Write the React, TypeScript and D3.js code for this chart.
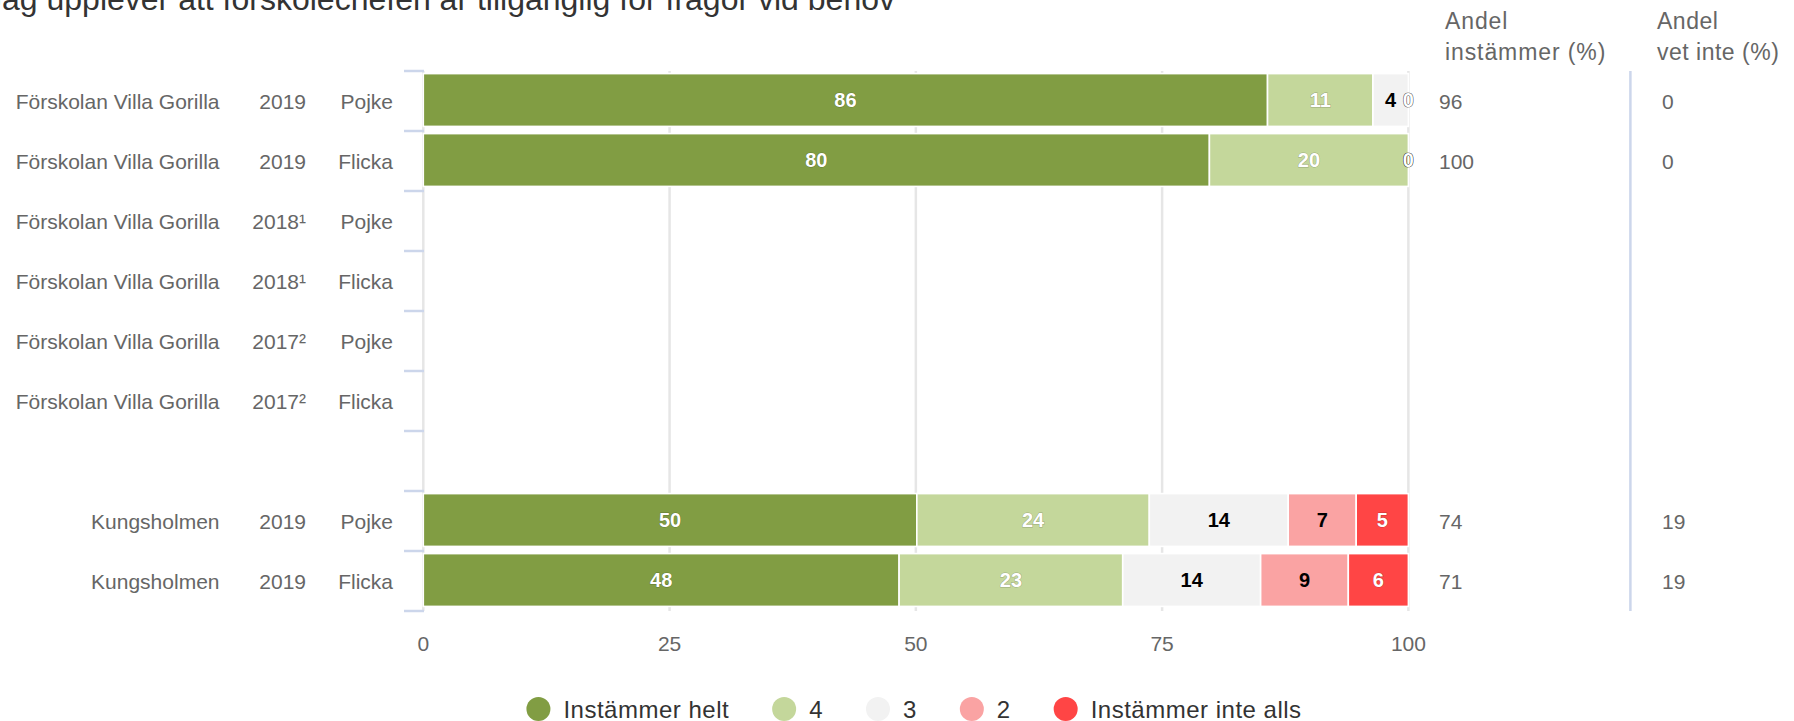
import React, { useMemo } from "react";
import * as d3 from "d3";

const titleText = "Jag upplever att förskolechefen är tillgänglig för frågor vid behov";
const schoolNames = [
  "Förskolan Villa Gorilla", "Förskolan Villa Gorilla", "Förskolan Villa Gorilla",
  "Förskolan Villa Gorilla", "Förskolan Villa Gorilla", "Förskolan Villa Gorilla",
  "", "Kungsholmen", "Kungsholmen",
];
const years = ["2019", "2019", "2018¹", "2018¹", "2017²", "2017²", "", "2019", "2019"];
const genders = ["Pojke", "Flicka", "Pojke", "Flicka", "Pojke", "Flicka", "", "Pojke", "Flicka"];

const instammerHelt = [85.7, 79.8, null, null, null, null, null, 50.1, 48.3];
const fyra = [10.7, 20.2, null, null, null, null, null, 23.6, 22.7];
const tre = [3.6, 0, null, null, null, null, null, 14.1, 14.0];
const tva = [0, 0, null, null, null, null, null, 6.9, 8.9];
const instammerInteAlls = [0, 0, null, null, null, null, null, 5.3, 6.1];

const andelInstammer = ["96", "100", "", "", "", "", "", "74", "71"];
const andelVetInte = ["0", "0", "", "", "", "", "", "19", "19"];

const seriesNames = ["Instämmer helt", "4", "3", "2", "Instämmer inte alls"];
const seriesColors = ["#819d43", "#c4d79b", "#f2f2f2", "#faa3a3", "#ff4545"];
const labelColors = ["#ffffff", "#ffffff", "#000000", "#000000", "#ffffff"];
const xTicks = [0, 25, 50, 75, 100];
const headerInstammer = ["Andel", "instämmer (%)"];
const headerVetInte = ["Andel", "vet inte (%)"];

const FONT = "'Liberation Sans', Arial, Helvetica, sans-serif";

export default function App() {
  const W = 1794;
  const H = 721;
  const x = d3.scaleLinear().domain([0, 100]).range([423.3, 1408.4]);
  const rows = d3.range(schoolNames.length);
  const y = d3.scaleBand<number>().domain(rows).range([71, 611]).paddingInner(0).paddingOuter(0);
  const bw = y.bandwidth();

  const seriesArrays = [instammerHelt, fyra, tre, tva, instammerInteAlls];
  const tableRows = rows.map((i) => {
    const o: any = { idx: i, has: instammerHelt[i] !== null };
    seriesNames.forEach((k, s) => (o[k] = seriesArrays[s][i] ?? 0));
    return o;
  });
  const stacked = d3.stack<any>().keys(seriesNames)(tableRows);

  const legendLayout = useMemo(() => {
    const c = document.createElement("canvas").getContext("2d")!;
    c.font = `24px ${FONT}`;
    const ls = 0.5;
    const widths = seriesNames.map((n) => c.measureText(n).width + ls * n.length);
    const items: { cx: number; tx: number }[] = [];
    let cx = 0;
    widths.forEach((w) => {
      const tx = cx + 25;
      items.push({ cx, tx });
      cx = tx + w + 55;
    });
    const left = items[0].cx - 12;
    const right = items[items.length - 1].tx + widths[widths.length - 1];
    const shift = 914 - (left + right) / 2;
    return items.map((it) => ({ cx: it.cx + shift, tx: it.tx + shift }));
  }, []);

  const boundaries = d3.range(rows.length + 1).map((k) => 71 + k * bw);

  return (
    <div style={{ position: "absolute", left: 0, top: 0, width: W, height: H, overflow: "hidden", background: "#fff" }}>
      <svg width={W} height={H} style={{ display: "block", fontFamily: FONT }}>
        <rect x={0} y={0} width={W} height={H} fill="#ffffff" />
        {/* title */}
        <text x={-14} y={10} fontSize={32} fill="#333333">{titleText}</text>

        {/* column headers */}
        {headerInstammer.map((t, i) => (
          <text key={"hi" + i} x={1445} y={29 + i * 31} fontSize={23} fill="#666666" letterSpacing={0.9}>{t}</text>
        ))}
        {headerVetInte.map((t, i) => (
          <text key={"hv" + i} x={1657} y={29 + i * 31} fontSize={23} fill="#666666" letterSpacing={0.5}>{t}</text>
        ))}

        {/* gridlines */}
        {xTicks.map((t) => (
          <line key={"g" + t} x1={x(t)} x2={x(t)} y1={71} y2={611} stroke="#e6e6e6" strokeWidth={2.5} />
        ))}
        {/* separator between value columns */}
        <line x1={1630.4} x2={1630.4} y1={71} y2={611} stroke="#ccd6eb" strokeWidth={2.5} />

        {/* category ticks */}
        {boundaries.map((b, i) => (
          <line key={"t" + i} x1={404} x2={424} y1={b} y2={b} stroke="#ccd6eb" strokeWidth={2.5} />
        ))}

        {/* bars */}
        {stacked.map((ser, s) =>
          ser.map((d: any, i: number) => {
            if (!tableRows[i].has) return null;
            const x0 = x(d[0]);
            const x1 = x(d[1]);
            return (
              <rect key={`b${s}-${i}`} x={x0} y={(y(i) as number) + 2.6} width={Math.max(0, x1 - x0)} height={bw - 7.2}
                fill={seriesColors[s]} stroke="#ffffff" strokeWidth={1.6} />
            );
          })
        )}
        {/* data labels */}
        {stacked.map((ser, s) =>
          ser.map((d: any, i: number) => {
            if (!tableRows[i].has) return null;
            const v = d[1] - d[0];
            const cx = x((d[0] + d[1]) / 2);
            const cy = (y(i) as number) + 2.6 + (bw - 7.2) / 2;
            const white = labelColors[s] === "#ffffff";
            return (
              <text key={`l${s}-${i}`} x={cx} y={cy + 7} textAnchor="middle" fontSize={20} fontWeight="bold"
                fill={labelColors[s]} stroke={white ? "#000000" : "#ffffff"} strokeOpacity={white ? (v === 0 ? 0.55 : 0.25) : 0}
                strokeWidth={1} style={{ paintOrder: "stroke fill" }}>
                {Math.round(v)}
              </text>
            );
          })
        )}

        {/* category labels */}
        {rows.map((i) => {
          const cy = (y(i) as number) + bw / 2 + 7.5;
          return (
            <g key={"c" + i} fontSize={21} fill="#666666">
              <text x={219.5} y={cy} textAnchor="end">{schoolNames[i]}</text>
              <text x={306} y={cy} textAnchor="end">{years[i]}</text>
              <text x={393} y={cy} textAnchor="end">{genders[i]}</text>
              <text x={1439} y={cy}>{andelInstammer[i]}</text>
              <text x={1662} y={cy}>{andelVetInte[i]}</text>
            </g>
          );
        })}

        {/* x axis labels */}
        {xTicks.map((t) => (
          <text key={"xl" + t} x={x(t)} y={650.5} textAnchor="middle" fontSize={21} fill="#666666">{t}</text>
        ))}

        {/* legend */}
        {seriesNames.map((n, i) => (
          <g key={"lg" + i}>
            <circle cx={legendLayout[i].cx} cy={709} r={12} fill={seriesColors[i]} />
            <text x={legendLayout[i].tx} y={717.5} fontSize={24} fill="#333333" letterSpacing={0.5}>{n}</text>
          </g>
        ))}
      </svg>
    </div>
  );
}
